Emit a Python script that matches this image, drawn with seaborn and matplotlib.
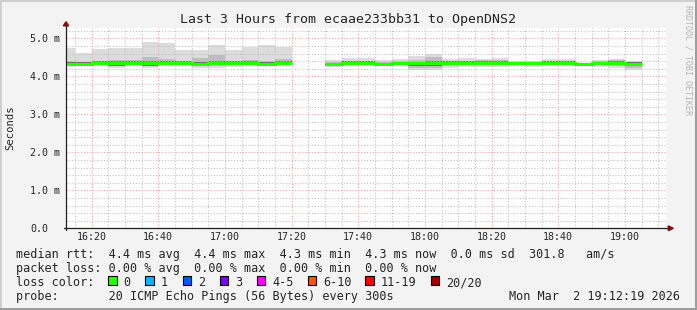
import numpy as np
import pandas as pd
import matplotlib
matplotlib.use("Agg")
import matplotlib.pyplot as plt
from matplotlib.patches import Rectangle, Polygon
from matplotlib.ticker import FixedLocator, MultipleLocator
import seaborn as sns

# ---------------- data (5-minute intervals, start time of each interval) ----------------
interval_start = ["16:10", "16:15", "16:20", "16:25", "16:30", "16:35", "16:40", "16:45",
                  "16:50", "16:55", "17:00", "17:05", "17:10", "17:15", "17:20", "17:25",
                  "17:30", "17:35", "17:40", "17:45", "17:50", "17:55", "18:00", "18:05",
                  "18:10", "18:15", "18:20", "18:25", "18:30", "18:35", "18:40", "18:45",
                  "18:50", "18:55", "19:00"]
nan = np.nan
# smoke envelope (ms)
rtt_max = [4.745, 4.62, 4.71, 4.745, 4.745, 4.895, 4.87, 4.68, 4.68, 4.82, 4.68, 4.78, 4.82, 4.77,
           nan, nan,
           4.44, 4.49, 4.49, 4.42, 4.46, 4.53, 4.59, 4.46, 4.49, 4.46, 4.49, 4.40, 4.40, 4.45,
           4.45, 4.36, 4.44, 4.46, 4.40]
rtt_min = [4.27, 4.27, 4.26, 4.23, 4.26, 4.23, 4.27, 4.27, 4.23, 4.23, 4.25, 4.26, 4.27, 4.28,
           nan, nan,
           4.245, 4.27, 4.27, 4.26, 4.27, 4.175, 4.16, 4.23, 4.245, 4.245, 4.245, 4.27, 4.245,
           4.27, 4.28, 4.28, 4.245, 4.22, 4.175]
# middle smoke band
mid_hi = [4.40, 4.38, 4.40, 4.42, 4.43, 4.50, 4.45, 4.40, 4.49, 4.55, 4.40, 4.42, 4.40, 4.46,
          nan, nan,
          4.38, 4.40, 4.40, 4.38, 4.39, 4.44, 4.50, 4.40, 4.41, 4.42, 4.42, 4.38, 4.38, 4.40,
          4.40, 4.35, 4.39, 4.42, 4.38]
mid_lo = [4.29, 4.29, 4.29, 4.26, 4.29, 4.26, 4.30, 4.30, 4.27, 4.28, 4.29, 4.29, 4.29, 4.30,
          nan, nan,
          4.28, 4.30, 4.30, 4.28, 4.30, 4.22, 4.21, 4.28, 4.29, 4.29, 4.29, 4.30, 4.29, 4.30,
          4.30, 4.30, 4.29, 4.27, 4.22]
# dense smoke near the median
in_hi = [4.37, 4.37, 4.39, 4.39, 4.40, 4.41, 4.39, 4.39, 4.38, 4.41, 4.39, 4.39, 4.38, 4.40,
         nan, nan,
         4.36, 4.39, 4.39, 4.36, 4.38, 4.38, 4.41, 4.40, 4.40, 4.41, 4.40, 4.38, 4.37, 4.39,
         4.39, 4.35, 4.38, 4.40, 4.38]
in_lo = [4.29, 4.29, 4.31, 4.27, 4.30, 4.27, 4.32, 4.32, 4.29, 4.30, 4.31, 4.31, 4.30, 4.31,
         nan, nan,
         4.29, 4.32, 4.32, 4.29, 4.32, 4.28, 4.26, 4.32, 4.32, 4.31, 4.29, 4.32, 4.30, 4.32,
         4.32, 4.31, 4.31, 4.29, 4.29]
rtt_median = [4.32, 4.32, 4.345, 4.345, 4.345, 4.345, 4.35, 4.35, 4.32, 4.345, 4.345, 4.345, 4.33, 4.345,
              nan, nan,
              4.32, 4.355, 4.355, 4.32, 4.35, 4.34, 4.35, 4.36, 4.36, 4.36, 4.36, 4.355, 4.34, 4.35,
              4.35, 4.33, 4.35, 4.35, 4.33]
loss_pings = [0] * 14 + [nan, nan] + [0] * 19

loss_labels = ["0", "1", "2", "3", "4-5", "6-10", "11-19", "20/20"]
loss_colors = ["#26ff00", "#00b8ff", "#0059ff", "#7e00ff", "#ff00ff", "#ff5500", "#ff0000", "#a10000"]

y_ticks = [0, 1, 2, 3, 4, 5]
y_tick_labels = ["0.0", "1.0 m", "2.0 m", "3.0 m", "4.0 m", "5.0 m"]

title = "Last 3 Hours from ecaae233bb31 to OpenDNS2"
legend_lines = [
    "median rtt:  4.4 ms avg  4.4 ms max  4.3 ms min  4.3 ms now  0.0 ms sd  301.8   am/s",
    "packet loss: 0.00 % avg  0.00 % max  0.00 % min  0.00 % now",
    "loss color:",
    "probe:       20 ICMP Echo Pings (56 Bytes) every 300s",
]
date_text = "Mon Mar  2 19:12:19 2026"

# ---------------- figure ----------------
W, H = 697, 310
sns.set_style("white")
plt.rcParams["font.family"] = ["DejaVu Sans Mono", "DejaVu Sans"]


def to_min(s):
    h, m = s.split(":")
    return (int(h) - 16) * 60 + int(m)


df = pd.DataFrame({
    "start": interval_start, "rtt_max": rtt_max, "rtt_min": rtt_min,
    "mid_hi": mid_hi, "mid_lo": mid_lo, "in_hi": in_hi, "in_lo": in_lo,
    "median": rtt_median, "loss": loss_pings,
})
df["t"] = df["start"].map(to_min)
valid = df.dropna().copy()

fig = plt.figure(figsize=(W / 100, H / 100), dpi=100, facecolor="#f3f3f3")
ax = fig.add_axes([66 / W, 1 - 228.3 / H, 600 / W, 200 / H])
ax.set_facecolor("white")
ax.set_xlim(12 + 19 / 60, 192 + 19 / 60)
ax.set_ylim(0, 200 / 38)

# smoke layers
for lo, hi, col in [("rtt_min", "rtt_max", "#dcdcdc"),
                    ("mid_lo", "mid_hi", "#bebebe"),
                    ("in_lo", "in_hi", "#6e6e6e")]:
    ax.bar(valid["t"], valid[hi] - valid[lo], bottom=valid[lo], width=5, align="edge",
           color=col, linewidth=0, zorder=1)

# median line, coloured by loss, one contiguous block at a time
valid["block"] = (valid["t"].diff() != 5).cumsum()
for _, blk in valid.groupby("block"):
    xs = list(blk["t"]) + [blk["t"].iloc[-1] + 5]
    ys = list(blk["median"]) + [blk["median"].iloc[-1]]
    col = loss_colors[int(blk["loss"].iloc[0])]
    sns.lineplot(x=xs, y=ys, ax=ax, drawstyle="steps-post", color=col, lw=2.2,
                 estimator=None, zorder=3, solid_capstyle="butt", solid_joinstyle="miter")
ax.set_xlabel("")
ax.set_ylabel("")

# ticks & grid
xt = list(range(20, 181, 20))
ax.xaxis.set_major_locator(FixedLocator(xt))
ax.set_xticklabels([f"{16 + m // 60}:{m % 60:02d}" for m in xt])
ax.xaxis.set_minor_locator(MultipleLocator(5))
ax.yaxis.set_major_locator(FixedLocator(y_ticks))
ax.set_yticklabels(y_tick_labels)
ax.yaxis.set_minor_locator(MultipleLocator(0.2))
ax.tick_params(which="both", length=0)
ax.tick_params(axis="x", pad=2.5, labelsize=7.2)
ax.tick_params(axis="y", pad=26, labelsize=7.2)
for lab in ax.get_yticklabels():
    lab.set_horizontalalignment("left")

ax.set_axisbelow(False)
ax.grid(which="major", color="#f2a2a2", linestyle=(0, (1, 1.6)), linewidth=0.8)
ax.grid(which="minor", color="#c2c2c2", linestyle=(0, (1, 1.6)), linewidth=0.8)
for s in ax.spines.values():
    s.set_visible(False)

# axes with arrows
axis_col = "#202020"
ax.plot([-2 / 600, 1 + 3 / 600], [0, 0], transform=ax.transAxes, color=axis_col,
        lw=0.9, clip_on=False, zorder=5)
ax.plot([0, 0], [-2 / 200, 1 + 3 / 200], transform=ax.transAxes, color=axis_col,
        lw=0.9, clip_on=False, zorder=5)
arrow_col = "#801010"
ax.add_patch(Polygon([(1 + 7.3 / 600, 0), (1 + 2.3 / 600, 2.4 / 200), (1 + 2.3 / 600, -2.4 / 200)],
                     closed=True, transform=ax.transAxes, color=arrow_col, clip_on=False, zorder=6))
ax.add_patch(Polygon([(0, 1 + 6.6 / 200), (-2.7 / 600, 1 + 2.4 / 200), (2.7 / 600, 1 + 2.4 / 200)],
                     closed=True, transform=ax.transAxes, color=arrow_col, clip_on=False, zorder=6))

# texts
def fy(py):
    return 1 - py / H


fig.text(347.5 / W, fy(23.5), title, ha="center", va="baseline", fontsize=9.5)
fig.text(10.5 / W, fy(128), "Seconds", rotation=90, ha="center", va="center", fontsize=7.6)
fig.text(687.7 / W, fy(60), "RRDTOOL / TOBI OETIKER", rotation=270, ha="center", va="center",
         fontsize=6, color="#b4b4b4")

baselines = [258.4, 272.4, 286.2, 300.0]
for txt, b in zip(legend_lines, baselines):
    fig.text(16 / W, fy(b), txt, ha="left", va="baseline", fontsize=8.5)
fig.text(680 / W, fy(baselines[3]), date_text, ha="right", va="baseline", fontsize=8.5)

box_x = [108.3, 145.4, 182.5, 219.6, 256.7, 307.6, 365.3, 430.7]
for bx, lab, col in zip(box_x, loss_labels, loss_colors):
    fig.add_artist(Rectangle((bx / W, fy(284.5)), 8.5 / W, 8.5 / H, transform=fig.transFigure,
                             facecolor=col, edgecolor="black", linewidth=0.8))
    fig.text((bx + 15.2) / W, fy(baselines[2]), lab, ha="left", va="baseline", fontsize=8.5)

# frame shading
fig.add_artist(Rectangle((0, 1 - 2 / H), 1, 2 / H, transform=fig.transFigure, color="#cfcfcf", lw=0))
fig.add_artist(Rectangle((0, 0), 2 / W, 1, transform=fig.transFigure, color="#cfcfcf", lw=0))
fig.add_artist(Rectangle((0, 0), 1, 2 / H, transform=fig.transFigure, color="#9e9e9e", lw=0))
fig.add_artist(Rectangle((1 - 2 / W, 0), 2 / W, 1, transform=fig.transFigure, color="#9e9e9e", lw=0))

fig.savefig("out.png", dpi=100, facecolor=fig.get_facecolor())
